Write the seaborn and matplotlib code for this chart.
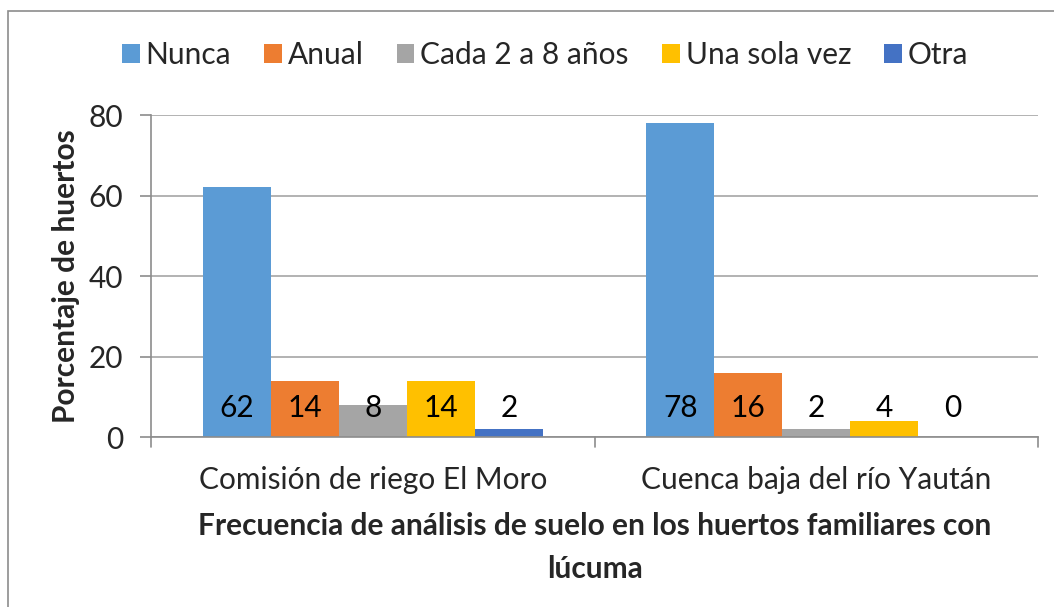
import matplotlib
matplotlib.use("Agg")
import matplotlib.pyplot as plt
import seaborn as sns
import pandas as pd
from matplotlib.patches import Rectangle

categories = ["Comisión de riego El Moro", "Cuenca baja del río Yaután"]
series = ["Nunca", "Anual", "Cada 2 a 8 años", "Una sola vez", "Otra"]
nunca = [62, 78]
anual = [14, 16]
cada = [8, 2]
una_vez = [14, 4]
otra = [2, 0]
colors = ["#5B9BD5", "#ED7D31", "#A5A5A5", "#FFC000", "#4472C4"]
yticks = [0, 20, 40, 60, 80]

rows = []
for s, vals in zip(series, [nunca, anual, cada, una_vez, otra]):
    for c, v in zip(categories, vals):
        rows.append({"cat": c, "serie": s, "val": v})
df = pd.DataFrame(rows)

sns.set_theme(style="white")
plt.rcParams["font.family"] = ["Lato", "DejaVu Sans"]

FS = 21.5

fig = plt.figure(figsize=(10.54, 6.07), dpi=100)
ax = fig.add_axes([0.1433, 0.280, 0.8417, 0.5305])

sns.barplot(data=df, x="cat", y="val", hue="serie", order=categories,
            hue_order=series, palette=colors, width=0.767, saturation=1,
            ax=ax, legend=True, edgecolor="none", linewidth=0, zorder=2)

ax.set_ylim(0, 80)
ax.set_xlim(-0.5, 1.5)
ax.set_yticks(yticks)
ax.yaxis.grid(True, color="#A6A6A6", linewidth=1.2, zorder=0)
ax.set_axisbelow(True)
for sp in ["top", "right"]:
    ax.spines[sp].set_visible(False)
for sp in ["left", "bottom"]:
    ax.spines[sp].set_color("#8C8C8C")
    ax.spines[sp].set_linewidth(1.2)
ax.tick_params(axis="y", length=8, width=1.2, color="#8C8C8C", labelsize=FS, pad=12, left=True)
ax.tick_params(axis="x", length=0, labelsize=FS, pad=21)
ax.set_yticklabels([str(t) for t in yticks])
# category boundary ticks
for xb in [-0.5, 0.5, 1.5]:
    ax.plot([xb, xb], [0, -0.03], transform=ax.get_xaxis_transform(),
            color="#8C8C8C", lw=1.2, clip_on=False)

ax.set_xlabel("Frecuencia de análisis de suelo en los huertos familiares con\nlúcuma",
              fontsize=FS, fontweight="bold", labelpad=13, linespacing=1.65)
ax.set_ylabel("Porcentaje de huertos", fontsize=FS, fontweight="bold", labelpad=6)

# labels at inside base
for cont in ax.containers:
    for bar in cont:
        h = bar.get_height()
        xc = bar.get_x() + bar.get_width() / 2
        ax.text(xc, 7.3, f"{h:.0f}", ha="center", va="center", fontsize=FS,
                color="black", zorder=5)

leg = ax.legend(loc="center", bbox_to_anchor=(545 / 1054, 1 - 55 / 607), bbox_transform=fig.transFigure,
                ncol=5, frameon=False, fontsize=FS, handlelength=0.6, handleheight=0.6,
                handletextpad=0.2, columnspacing=1.1, borderaxespad=0)

fig.patches.append(Rectangle((8 / 1054, -0.01), 1.1, 1 - 11 / 607 + 0.01, transform=fig.transFigure,
                             fill=False, edgecolor="#8C8C8C", linewidth=1.2, zorder=0))

fig.savefig("out.png", dpi=100)
